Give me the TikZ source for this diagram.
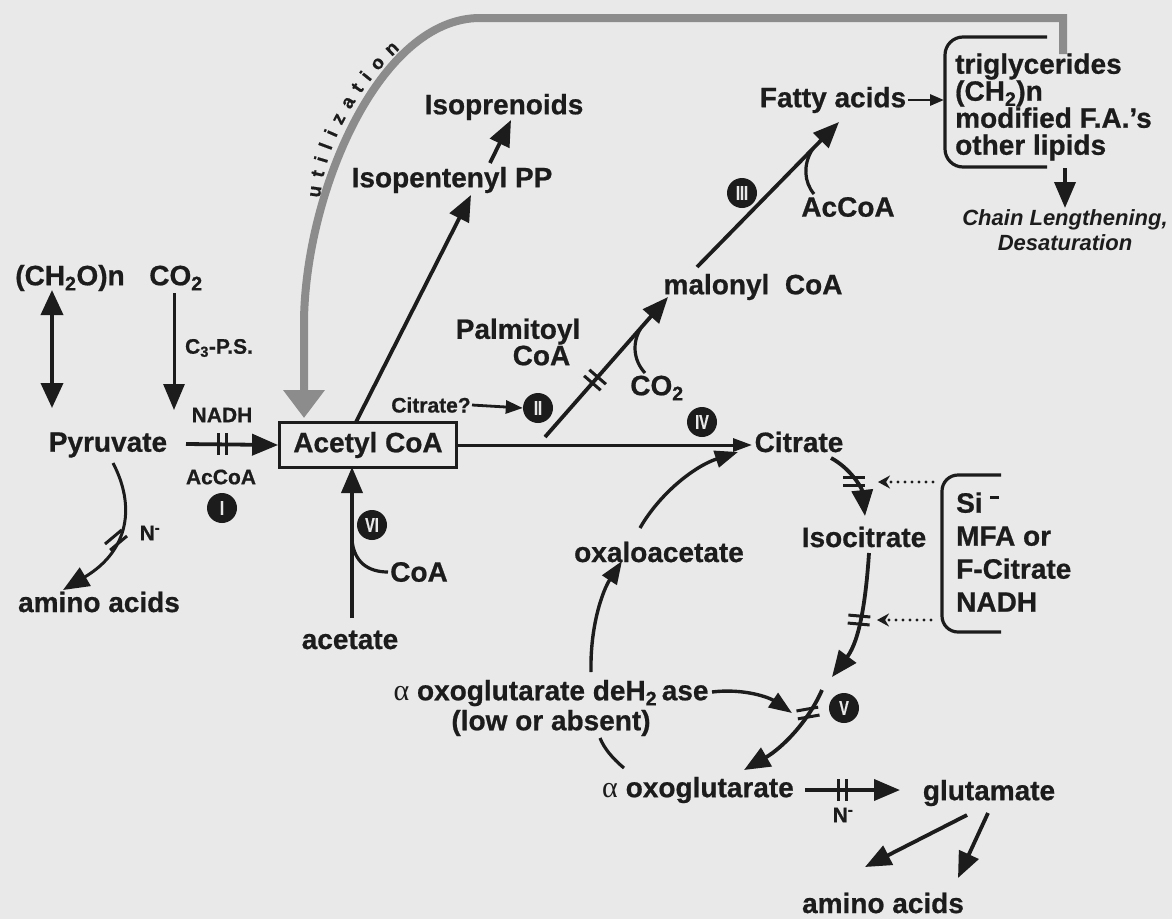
\documentclass[tikz,border=0pt]{standalone}
\usepackage{fontspec}
\setmainfont{Liberation Sans}[BoldFeatures={FakeBold=0.7}]
\newfontfamily\alphafont{Liberation Serif}
\usetikzlibrary{arrows.meta,decorations.text,calc}
\definecolor{bg}{RGB}{233,233,233}
\definecolor{ink}{RGB}{28,28,28}
\definecolor{hatch}{RGB}{140,140,140}
\newcommand{\ibars}[3]{\begin{scope}[shift={(#1,#2)},rotate=#3]\draw[barl] (-4,-11) -- (-4,11) (4,-11) -- (4,11);\end{scope}}
\newcommand{\rn}[1]{\scalebox{0.72}[1]{#1}}
\begin{document}
\begin{tikzpicture}[x=1pt,y=-1pt,
  lbl/.style={font=\fontsize{28}{28}\selectfont\bfseries, inner sep=0pt, text=ink},
  sm/.style={font=\fontsize{21}{21}\selectfont\bfseries, inner sep=0pt, text=ink},
  num/.style={circle, fill=ink, text=bg, minimum size=30pt, inner sep=0pt, font=\fontsize{20}{20}\selectfont\bfseries},
  arr/.style={draw=ink, line width=3.8pt, -{Triangle[length=26pt,width=21pt]}},
  arrm/.style={draw=ink, line width=3.4pt, -{Triangle[length=23pt,width=17pt]}},
  arrs/.style={draw=ink, line width=2.8pt, -{Triangle[length=17pt,width=13pt]}},
  dblarr/.style={draw=ink, line width=3.8pt, {Triangle[length=25pt,width=22pt]}-{Triangle[length=25pt,width=22pt]}},
  ln/.style={draw=ink, line width=3.2pt},
  barl/.style={draw=ink, line width=3pt},
  dotarr/.style={draw=ink, line width=3.4pt, line cap=round, dash pattern=on 0pt off 7pt, -{Stealth[length=12pt,width=13pt]}},
  util/.style={draw=hatch, line width=8pt, -{Triangle[length=28pt,width=40pt]}}
]
\useasboundingbox (0,0) rectangle (1172,919);
\fill[bg] (0,0) rectangle (1172,919);

% utilization feedback path
\coordinate (utilstart) at (1063,54);
\coordinate (utilend) at (304,418);
\draw[util] (utilstart) -- (1063,18) -- (480,18) .. controls (380,18) and (306,190) .. (304,320) -- (utilend);
\path[decorate, decoration={text along path, text={|\fontsize{19}{19}\selectfont\bfseries\color{ink}|utilization}, text align={fit to path}}] (320,198) .. controls (325,150) and (350,95) .. (400,49);

% nodes
\node[lbl] (ch2o) at (70,278) {(CH\textsubscript{2}O)n};
\node[lbl] (co2a) at (176,278) {CO\textsubscript{2}};
\node[sm] (c3ps) at (219,348) {C\textsubscript{3}-P.S.};
\node[sm] (nadh) at (222,415) {NADH};
\node[lbl] (pyr) at (108,445) {Pyruvate};
\node[sm] (accoa1) at (221,477) {AcCoA};
\node[num] (n1) at (222,508) {\rn{I}};
\node[lbl] (amino1) at (99,602) {amino acids};
\node[sm] (nm1) at (150,533) {N\textsuperscript{-}};
\node[lbl, draw=ink, line width=2.8pt, minimum width=177pt, minimum height=45pt] (acetyl) at (368,445) {Acetyl CoA};
\node[lbl] (ipp) at (452,180) {Isopentenyl PP};
\node[lbl] (isopren) at (504,107) {Isoprenoids};
\node[lbl, align=right, font=\fontsize{28}{25}\selectfont\bfseries] (palm) at (518,342) {Palmitoyl\\CoA\hspace*{10pt}};
\node[sm] (citq) at (431,405) {Citrate?};
\node[num] (n2) at (538,408) {\rn{II}};
\node[lbl] (co2b) at (657,388) {CO\textsubscript{2}};
\node[num] (n4) at (702,422) {\rn{IV}};
\node[lbl] (malonyl) at (753,287) {malonyl\ \ CoA};
\node[num] (n3) at (742,193) {\rn{III}};
\node[lbl] (accoa2) at (848,207) {AcCoA};
\node[lbl] (fatty) at (833,100) {Fatty acids};
\node[lbl, align=left, anchor=west, font=\fontsize{28}{27}\selectfont\bfseries] (trig) at (955,107) {triglycerides\\(CH\textsubscript{2})n\\modified F.A.'s\\other lipids};
\node[inner sep=0pt, text=ink, align=center, font=\fontsize{22}{25}\selectfont\bfseries\itshape] (chain) at (1065,230) {Chain Lengthening,\\Desaturation};
\node[lbl] (citrate) at (799,442) {Citrate};
\node[lbl] (oxalo) at (659,552) {oxaloacetate};
\node[lbl] (isocit) at (864,537) {Isocitrate};
\node[lbl, align=left, anchor=west, font=\fontsize{28}{33}\selectfont\bfseries] (inhib) at (956,552) {Si\ \raisebox{14pt}{\rule{9pt}{2.8pt}}\\MFA or\\F-Citrate\\NADH};
\node[lbl] (acetate) at (350,640) {acetate};
\node[lbl] (coa) at (419,572) {CoA};
\node[num] (n6) at (372,525) {\rn{VI}};
\node[lbl, align=center, font=\fontsize{28}{30}\selectfont\bfseries] (akgdh) at (551,708) {{\alphafont\mdseries\fontsize{30}{30}\selectfont α} oxoglutarate deH\textsubscript{2}\,ase\\(low or absent)};
\node[num] (n5) at (844,708) {\rn{V}};
\node[lbl] (akg) at (698,790) {{\alphafont\mdseries\fontsize{30}{30}\selectfont α} oxoglutarate};
\node[sm] (nm2) at (843,815) {N\textsuperscript{-}};
\node[lbl] (glut) at (989,793) {glutamate};
\node[lbl] (amino2) at (883,903) {amino acids};

% connectors, left part
\draw[dblarr] (52,290) -- (52,408);
\draw[arr, line width=3pt] (174,293) -- (174,410);
\draw[arr] (186,444) -- (acetyl.west);
\ibars{222}{444}{0}
\draw[arr, line width=3pt] (113,463) .. controls (135,505) and (130,550) .. (63,590);
\ibars{116}{540}{-50}
\draw[arr] (356,422) -- (471,195);
\draw[arr] (490,163) -- (511,120);
\draw[arr] (352,618) -- (352,467);
\draw[ln] (352,540) .. controls (354,562) and (368,572) .. (388,572);

% fatty acid branch
\draw[arrs] (472,405) -- (n2.west);
\draw[arr] (545,437) -- (668,297);
\ibars{595}{380}{49}
\draw[ln] (641,328) .. controls (632,342) and (633,360) .. (645,373);
\draw[arr] (697,267) -- (839,122);
\draw[ln] (812,150) .. controls (803,165) and (804,182) .. (814,194);
\draw[draw=ink, line width=2.8pt, -{Triangle[length=14pt,width=11pt]}] (908,100) -- (944,100);
\draw[ln, rounded corners=18pt] (1047,37) -- (945,37) -- (945,167) -- (1047,167);
\draw[arr] (1065,168) -- (1065,208);

% TCA part
\draw[draw=ink, line width=3pt, -{Triangle[length=19pt,width=13pt]}] (acetyl.east) -- (752,445);
\draw[arrm] (640,528) .. controls (660,493) and (695,466) .. (738,452);
\draw[arr] (831,458) .. controls (850,468) and (862,488) .. (865,516);
\ibars{854}{481}{90}
\draw[dotarr] (933,482) -- (878,482);
\draw[arr] (869,553) .. controls (866,598) and (860,640) .. (832,677);
\ibars{859}{620}{85}
\draw[dotarr] (931,620) -- (877,620);
\draw[ln, rounded corners=16pt] (1001,475) -- (942,475) -- (942,632) -- (1001,632);
\draw[arrm] (712,692) .. controls (745,688) and (770,698) .. (792,713);
\draw[arr] (822,690) .. controls (808,722) and (782,748) .. (744,770);
\ibars{808}{713}{100}
\draw[ln] (624,768) .. controls (612,758) and (604,748) .. (600,738);
\draw[arrm] (591,672) .. controls (590,625) and (603,590) .. (622,561);
\draw[arr] (805,790) -- (900,790);
\ibars{842}{790}{0}
\draw[arr] (967,815) -- (865,867);
\draw[arr] (988,813) -- (958,878);
\end{tikzpicture}
\end{document}
